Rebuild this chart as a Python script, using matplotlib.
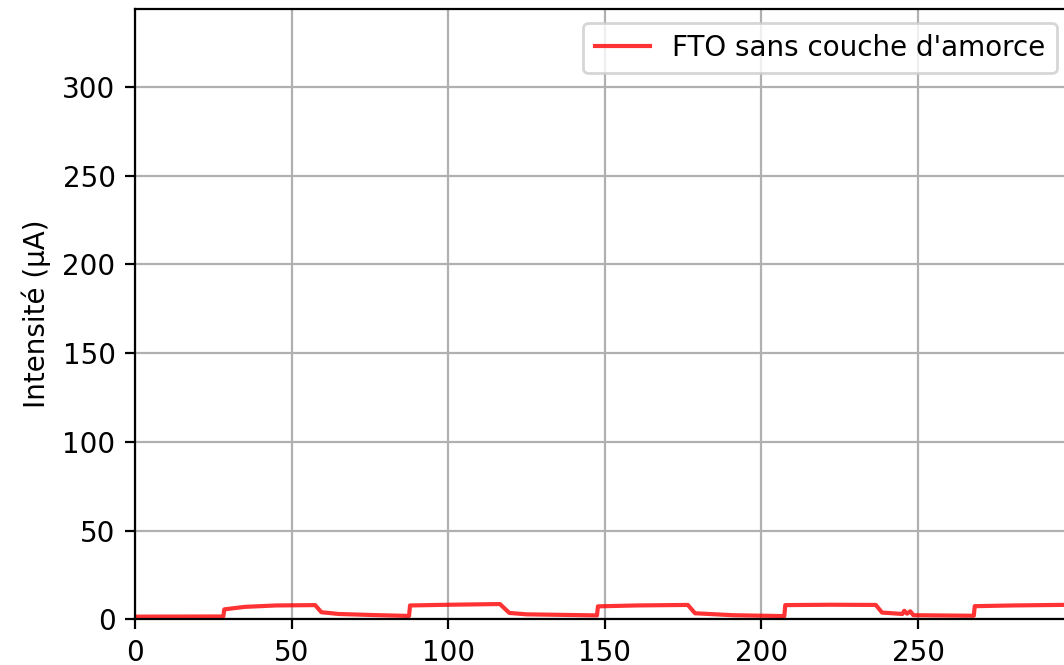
import matplotlib
matplotlib.use("Agg")
import matplotlib.pyplot as plt

# temps (s) et intensité (µA)
temps = [0, 28.2, 28.5, 35, 45, 57.5, 59.5, 65, 76, 87.5, 87.8, 100, 116.5,
         119.5, 125, 147.5, 147.8, 160, 176.5, 178.8, 191, 207.3, 207.6, 222,
         236.5, 238.5, 245, 245.6, 246.5, 247.5, 248.5, 267.8, 268.1, 280, 300]
intensite = [1.5, 1.6, 5.6, 7.0, 7.8, 8.0, 4.0, 3.0, 2.4, 1.9, 7.8, 8.2, 8.6,
             3.6, 2.8, 2.2, 7.3, 7.8, 8.1, 3.4, 2.3, 1.8, 8.0, 8.2,
             8.1, 3.8, 3.0, 4.8, 3.2, 4.5, 2.3, 2.0, 7.4, 7.8, 8.2]
label = "FTO sans couche d'amorce"

yticks = [0, 50, 100, 150, 200, 250, 300]
xticks = [0, 50, 100, 150, 200, 250]

fig = plt.figure(figsize=(1064 / 200, 665 / 200), dpi=200)
ax = fig.add_axes([135 / 1064, 45.7 / 665, 935.6 / 1064, 610.3 / 665])

ax.plot(temps, intensite, color='red', alpha=0.8, label=label)
ax.set_xlim(0, 298.7)
ax.set_ylim(0, 344)
ax.set_xticks(xticks)
ax.set_yticks(yticks)
ax.set_ylabel("Intensité (µA)")
ax.grid(True)
ax.legend(loc='upper right')

fig.savefig("out.png", dpi=200)
